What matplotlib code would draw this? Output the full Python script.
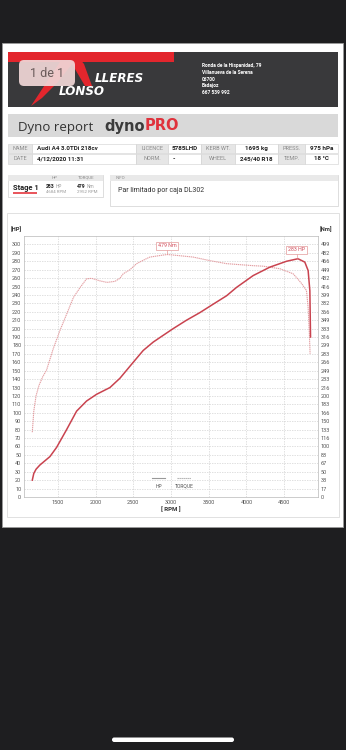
import numpy as np
import matplotlib
matplotlib.use('Agg')
import matplotlib.pyplot as plt
from matplotlib.patches import Rectangle, FancyBboxPatch, Polygon
from matplotlib.lines import Line2D

plt.rcParams['font.family'] = ['Roboto', 'DejaVu Sans']

# data
rpm_hp = [1160, 1180, 1210, 1261, 1394, 1483, 1615, 1748, 1880, 2013, 2190, 2322, 2499, 2631,
          2764, 2896, 3029, 3206, 3383, 3559, 3648, 3737, 3870, 4090, 4311, 4533, 4684,
          4775, 4819, 4842, 4851]
hp = [20, 28, 33, 38, 48, 59, 80, 102, 114, 122, 130, 141, 160, 174,
      184, 192, 200, 210, 219, 229, 234, 239, 249, 263, 273, 280, 283,
      279, 269, 245, 190]

rpm_tq = [1160, 1180, 1210, 1250, 1300, 1350, 1438, 1527, 1615, 1705, 1795, 1880, 1947,
          2057, 2150, 2256, 2322, 2366, 2455, 2544, 2676, 2720, 2896, 2952, 3029, 3294,
          3515, 3737, 4090, 4222, 4444, 4620, 4680, 4731, 4797, 4819, 4835, 4845]
torque_nm = [128, 170, 200, 221, 238, 251, 293, 329, 361, 394, 414, 431, 432,
             427, 424, 426, 432, 441, 449, 461, 471, 474, 478, 479, 478, 474,
             467, 461, 457, 456, 451, 441, 431, 422, 408, 374, 324, 283]

hp_ticks = list(range(0, 301, 10))
nm_tick_labels = ['0', '17', '33', '50', '67', '83', '100', '116', '133', '150', '166',
                  '183', '200', '216', '233', '249', '266', '283', '299', '316', '333',
                  '349', '366', '382', '399', '416', '432', '449', '466', '482', '499']
rpm_ticks = [1500, 2000, 2500, 3000, 3500, 4000, 4500]

peak_hp, peak_hp_rpm = 283, 4684
peak_tq, peak_tq_rpm = 479, 2952
nm_per_hp = 499 / 300

header_labels = [['NAME', 'LICENCE', 'KERB WT.', 'PRESS.'],
                 ['DATE', 'NORM.', 'WHEEL', 'TEMP.']]
header_values = [['Audi A4 3.0TDi 218cv', '5785LHD', '1695 kg', '975 hPa'],
                 ['4/12/2020 11:31', '-', '245/40 R18', '18 °C']]
address = ['Ronda de la Hispanidad, 79', 'Villanueva de la Serena', '06700',
           'Badajoz', '667 539 992']

HP_COL = '#c9434f'
TQ_COL = '#e39ea2'

W, H = 346, 750
fig = plt.figure(figsize=(W / 100, H / 100), dpi=100, facecolor='#1e1e20')

# full-figure canvas in pixel coordinates
bg = fig.add_axes([0, 0, 1, 1])
bg.set_xlim(0, W)
bg.set_ylim(H, 0)
bg.axis('off')

bg.add_patch(Rectangle((2, 43), 341, 484, fc='white', ec='#9a9a9a', lw=0.6))

# header band with logo
bg.add_patch(Rectangle((8, 52), 330, 55, fc='#39393b', ec='none'))
bg.add_patch(Rectangle((8, 52), 166, 10, fc='#e3262d', ec='none'))
bg.add_patch(Polygon([(31, 106), (52, 74), (66, 53), (74, 52), (84, 64), (92, 86),
                      (85, 86), (72, 64), (58, 82), (42, 98)], closed=True,
                     fc='#e3262d', ec='none'))
bg.add_patch(FancyBboxPatch((19, 60), 56, 26, boxstyle='round,pad=0,rounding_size=5',
                            fc='#f0d6d6', ec='none', alpha=0.93))
bg.text(47, 73.5, '1 de 1', fontsize=9, color='#6a5a5a', ha='center', va='center')
bg.text(95, 81.5, 'LLERES', fontsize=8.6, color='white', fontweight='bold',
        fontstyle='italic', family='DejaVu Sans', va='baseline')
bg.text(59, 95, 'LONSO', fontsize=8.6, color='white', fontweight='bold',
        fontstyle='italic', family='DejaVu Sans', va='baseline')
for i, line in enumerate(address):
    bg.text(202, 66 + i * 6.6, line, fontsize=3.5, color='white', fontweight='bold',
            va='center')

# title band
bg.add_patch(Rectangle((8, 114), 330, 23, fc='#d9d9d9', ec='none'))
bg.text(18, 130.5, 'Dyno report', fontsize=9.5, color='#333333', va='baseline',
        family='Open Sans')
t_dyno = bg.text(104, 130.5, 'dyno', fontsize=10.5, color='#3b3b3b', fontweight='bold',
                 va='baseline', family='DejaVu Sans')
fig.canvas.draw()
ext = t_dyno.get_window_extent()
x_end = bg.transData.inverted().transform((ext.x1, ext.y0))[0]
bg.text(x_end, 130.5, 'PRO', fontsize=10.5, color='#e0323c', fontweight='bold',
        va='baseline', family='DejaVu Sans')

# vehicle table
xs = [8, 32, 136, 168, 201, 235, 278, 305, 338]
ys = [143.5, 153.5, 164]
for r in range(2):
    y0, y1 = ys[r], ys[r + 1]
    for c in range(8):
        x0, x1 = xs[c], xs[c + 1]
        is_label = c % 2 == 0
        bg.add_patch(Rectangle((x0 + 0.4, y0 + 0.4), x1 - x0 - 0.8, y1 - y0 - 0.8,
                               fc='#e6e6e6' if is_label else 'white', ec='#cfcfcf', lw=0.4))
        ym = (y0 + y1) / 2
        if is_label:
            bg.text((x0 + x1) / 2, ym, header_labels[r][c // 2], fontsize=4,
                    color='#8a8a8a', ha='center', va='center')
        else:
            txt = header_values[r][c // 2]
            if c == 1 or (c == 3 and txt == '-'):
                bg.text(x0 + 5, ym, txt, fontsize=4.5, color='#222222',
                        fontweight='bold', ha='left', va='center')
            else:
                bg.text((x0 + x1) / 2, ym, txt, fontsize=4.5, color='#222222',
                        fontweight='bold', ha='center', va='center')

# stage box
bg.add_patch(Rectangle((8, 175), 95, 22, fc='white', ec='#d0d0d0', lw=0.5))
bg.add_patch(Rectangle((8, 175), 95, 6, fc='#e9e9e9', ec='none'))
bg.text(55, 178, 'HP', fontsize=3.2, color='#8a8a8a', ha='center', va='center')
bg.text(86, 178, 'TORQUE', fontsize=3.2, color='#8a8a8a', ha='center', va='center')
bg.text(13, 188.5, 'Stage 1', fontsize=5.4, color='#222222', fontweight='bold',
        va='center')
bg.plot([13, 37], [193.2, 193.2], color='#e3262d', lw=1.1, solid_capstyle='butt')
bg.text(54.5, 187, str(peak_hp), fontsize=3.6, color='#222222', fontweight='bold',
        ha='right', va='center')
bg.text(55.5, 187, 'HP', fontsize=3.4, color='#9a9a9a', ha='left', va='center')
bg.text(56, 192.3, f'{peak_hp_rpm} RPM', fontsize=3.2, color='#9a9a9a', ha='center',
        va='center')
bg.text(85.5, 187, str(peak_tq), fontsize=3.6, color='#222222', fontweight='bold',
        ha='right', va='center')
bg.text(86.5, 187, 'Nm', fontsize=3.4, color='#9a9a9a', ha='left', va='center')
bg.text(87, 192.3, f'{peak_tq_rpm} RPM', fontsize=3.2, color='#9a9a9a', ha='center',
        va='center')

# info box
bg.add_patch(Rectangle((110, 175), 228, 31, fc='white', ec='#d0d0d0', lw=0.5))
bg.add_patch(Rectangle((110, 175), 228, 6, fc='#e9e9e9', ec='none'))
bg.text(116, 178, 'INFO', fontsize=3.2, color='#8a8a8a', va='center')
bg.text(118, 190, 'Par limitado por caja DL302', fontsize=5, color='#333333',
        va='center')

# chart frame
bg.add_patch(Rectangle((7, 213), 331.5, 304, fc='none', ec='#dcdcdc', lw=0.6))
bg.text(16, 229, '[HP]', fontsize=4.2, color='#333333', fontweight='bold',
        ha='center', va='center')
bg.text(325.5, 229, '[Nm]', fontsize=4.2, color='#333333', fontweight='bold',
        ha='center', va='center')
bg.text(171, 509.5, '[ RPM ]', fontsize=4.4, color='#333333', fontweight='bold',
        ha='center', va='center')

# phone home indicator
bg.add_patch(FancyBboxPatch((112, 737.5), 122, 4.5, boxstyle='round,pad=0,rounding_size=2.2',
                            fc='white', ec='none'))

# dyno chart
L, R, T, B = 24, 318, 236, 497
ax = fig.add_axes([L / W, 1 - B / H, (R - L) / W, (B - T) / H])
ax.set_facecolor('white')
ax.set_xlim(1050, 4950)
ax.set_ylim(0, 310)

ax.plot(rpm_tq, np.array(torque_nm) / nm_per_hp, color=TQ_COL, lw=0.8,
        ls=(0, (1.2, 0.6)), zorder=3)
ax.plot(rpm_hp, hp, color=HP_COL, lw=1.1, zorder=4)

ax.set_xticks(rpm_ticks)
ax.set_yticks(hp_ticks)
ax.tick_params(length=0, labelsize=4, colors='#555555', pad=2)
ax.grid(True, color='#c8c8c8', lw=0.4, ls=(0, (2.5, 2)))
for s in ax.spines.values():
    s.set_color('#b8b8b8')
    s.set_linewidth(0.5)

ax2 = ax.twinx()
ax2.set_ylim(ax.get_ylim())
ax2.set_yticks(hp_ticks)
ax2.set_yticklabels(nm_tick_labels)
ax2.tick_params(length=0, labelsize=4, colors='#555555', pad=2)
for s in ax2.spines.values():
    s.set_visible(False)

box = dict(boxstyle='square,pad=0.3', fc='white', ec='#e39a9a', lw=0.5)
ax.annotate(f'{peak_tq} Nm', xy=(peak_tq_rpm, peak_tq / nm_per_hp),
            xytext=(peak_tq_rpm, 298.5), fontsize=3.8, color='#d04a58',
            ha='center', va='center', bbox=box, zorder=6,
            arrowprops=dict(arrowstyle='-', color='#e39a9a', lw=0.5,
                            shrinkA=0, shrinkB=0))
ax.annotate(f'{peak_hp} HP', xy=(peak_hp_rpm, peak_hp),
            xytext=(peak_hp_rpm - 20, 293.5), fontsize=3.8, color='#d04a58',
            ha='center', va='center', bbox=box, zorder=6,
            arrowprops=dict(arrowstyle='-', color='#e39a9a', lw=0.5,
                            shrinkA=0, shrinkB=0))

# legend: sample line above its label
for x0, lab, col, ls in [(0.435, 'HP', '#999999', '-'),
                         (0.522, 'TORQUE', '#aaaaaa', (0, (1.2, 0.6)))]:
    ax.add_line(Line2D([x0, x0 + 0.045], [0.073, 0.073], transform=ax.transAxes,
                       color=col, lw=0.8, ls=ls))
    ax.text(x0 + 0.0225, 0.041, lab, transform=ax.transAxes, fontsize=3.6,
            color='#555555', ha='center', va='center')

fig.savefig('out.png', dpi=100, facecolor=fig.get_facecolor())
